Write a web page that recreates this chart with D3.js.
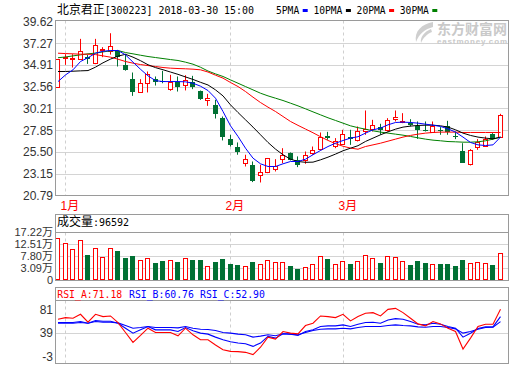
<!DOCTYPE html>
<html><head><meta charset="utf-8">
<script src="https://cdn.jsdelivr.net/npm/d3@7"></script>
<style>body{margin:0;background:#fff;} svg{display:block;}</style>
</head><body><svg id="c" width="520" height="365"></svg>
<script>
const dates = ["12-29",
 "01-02","01-03","01-04","01-05","01-08","01-09","01-10","01-11","01-12","01-15","01-16","01-17","01-18","01-19","01-22","01-23","01-24","01-25","01-26","01-29","01-30","01-31",
 "02-01","02-02","02-05","02-06","02-07","02-08","02-09","02-12","02-13","02-14","02-22","02-23","02-26","02-27","02-28",
 "03-01","03-02","03-05","03-06","03-07","03-08","03-09","03-12","03-13","03-14","03-15","03-16","03-19","03-20","03-21","03-22","03-23","03-26","03-27","03-28","03-29","03-30"];
const open  = [32.58,35.68,35.58,35.54,35.83,35.18,36.55,36.48,36.48,34.92,33.41,32.04,32.94,33.41,33.23,32.30,33.12,32.76,33.02,32.12,31.14,30.60,29.16,26.92,26.06,24.29,24.11,23.00,23.28,23.68,24.72,25.38,24.65,24.58,25.38,25.81,27.25,26.16,26.34,27.11,26.75,27.72,27.97,28.15,27.83,29.05,28.76,28.62,28.33,27.90,27.65,27.90,28.33,27.25,25.63,24.18,26.02,26.16,27.47,27.11];
const high  = [35.54,36.08,36.08,37.74,36.00,37.74,36.84,38.35,36.55,36.11,34.10,33.38,34.21,33.67,34.28,33.85,33.67,33.81,33.74,32.15,31.79,31.14,29.34,27.36,26.53,25.20,24.47,24.11,24.85,24.72,25.91,25.45,25.02,25.55,26.09,27.61,27.68,27.00,27.90,27.90,28.26,29.99,28.98,28.55,29.16,29.99,29.70,29.05,28.80,28.80,28.80,28.19,28.87,27.72,26.45,25.81,26.89,27.18,27.54,29.63];
const low   = [32.58,34.93,34.64,35.50,35.03,35.00,35.76,36.04,34.75,34.30,31.57,31.94,31.94,32.69,32.94,32.12,32.04,32.16,32.30,31.14,30.49,29.12,26.75,26.09,25.20,23.93,22.24,22.20,23.21,23.39,24.29,24.58,23.86,24.22,25.20,25.66,26.82,25.91,26.27,26.27,26.64,27.36,27.72,27.36,27.72,28.80,28.62,28.26,26.92,27.72,27.61,27.36,27.36,26.89,24.33,24.04,25.73,26.09,26.82,27.10];
const close = [35.54,35.83,35.63,36.48,35.54,37.05,36.66,36.98,35.76,34.38,32.04,32.94,33.92,33.02,33.02,33.02,32.48,33.30,32.48,31.25,31.29,29.63,27.11,26.27,25.45,24.72,22.31,23.32,24.83,23.93,25.20,24.65,24.04,25.12,25.73,27.11,26.96,26.74,27.43,26.89,27.79,27.97,28.37,27.90,28.98,29.27,28.87,28.37,27.83,27.79,28.33,27.75,27.65,27.11,24.36,25.73,26.63,26.92,26.92,29.52];
const volume = [15.17,13.19,10.81,14.11,8.43,11.20,7.63,11.20,9.75,6.97,7.77,6.44,7.24,4.99,5.78,6.18,5.39,7.24,6.18,6.18,4.07,5.39,6.58,4.59,4.20,4.07,5.39,4.86,6.18,5.65,5.39,3.80,2.61,3.67,4.59,7.77,6.58,4.86,6.05,4.59,6.05,8.43,6.97,4.99,7.77,7.37,6.05,4.20,5.78,4.99,4.86,4.59,4.59,3.80,6.18,5.25,5.65,5.25,4.20,9.22];
const ma5  = [33.12,33.84,34.39,35.29,35.70,36.19,36.40,36.48,36.48,36.01,35.22,34.45,33.74,33.22,33.12,33.12,33.12,33.09,32.94,32.62,32.15,31.32,29.88,28.33,27.18,25.91,24.83,24.22,23.93,23.93,24.22,24.47,24.47,24.72,25.20,25.66,26.09,26.45,26.74,27.00,27.15,27.54,27.90,28.08,28.44,28.69,28.73,28.69,28.62,28.51,28.40,28.26,28.01,27.65,27.11,26.53,26.27,26.20,26.27,27.11];
const ma10 = [34.21,34.21,34.24,34.28,34.31,34.68,35.15,35.55,35.87,36.07,35.76,35.38,34.94,34.63,34.40,34.15,33.90,33.62,33.35,33.04,32.75,32.22,31.57,30.60,29.77,28.98,28.19,27.36,26.53,25.81,25.20,24.72,24.47,24.38,24.40,24.65,24.94,25.27,25.63,25.91,26.18,26.64,27.00,27.36,27.68,27.97,28.19,28.30,28.37,28.40,28.40,28.33,28.19,27.90,27.54,27.29,27.11,27.00,26.92,27.11];
const ma20 = [36.19,36.15,36.12,36.08,36.08,36.04,35.90,35.76,35.54,35.29,35.11,34.96,34.85,34.75,34.64,34.57,34.53,34.50,34.46,34.39,34.15,33.81,33.49,33.02,32.58,32.04,31.43,30.85,30.35,29.88,29.34,28.80,28.38,27.98,27.58,27.15,26.75,26.40,26.12,25.92,25.80,26.09,26.27,26.45,26.67,26.89,27.11,27.29,27.43,27.54,27.61,27.65,27.65,27.65,27.61,27.61,27.61,27.61,27.61,27.61];
const ma30 = [35.70,35.78,35.90,36.01,36.12,36.20,36.33,36.44,36.48,36.26,36.12,35.97,35.83,35.72,35.61,35.50,35.40,35.22,35.00,34.67,34.26,33.95,33.67,33.30,32.94,32.58,32.22,31.86,31.57,31.32,31.07,30.78,30.49,30.17,29.84,29.52,29.20,28.91,28.62,28.33,28.13,27.97,27.79,27.65,27.54,27.43,27.32,27.18,27.03,26.89,26.78,26.71,26.63,26.60,26.56,26.56,26.60,26.71,26.89,27.11];
const rsiA = [64.2,67.2,66.0,73.2,58.8,73.2,69.0,70.2,58.2,40.2,22.2,34.8,48.0,40.2,40.2,40.2,34.2,48.0,36.0,27.0,27.0,17.4,9.0,6.0,5.4,4.2,0.0,13.5,31.8,28.2,42.0,39.0,37.8,52.8,57.0,70.2,69.0,67.2,73.2,61.2,69.0,75.0,76.2,70.2,82.2,84.0,76.2,66.0,55.8,52.2,60.0,55.8,48.0,42.0,10.2,30.0,51.0,55.2,55.2,82.2];
const rsiB = [58.2,58.2,58.2,60.0,57.0,61.8,60.6,60.6,57.0,48.0,39.0,45.0,51.0,45.0,45.0,45.0,42.0,49.2,43.2,39.0,37.2,31.8,27.0,23.4,21.0,19.8,15.0,21.0,33.0,30.0,37.8,37.2,34.8,42.0,45.0,51.0,52.2,52.2,54.0,51.0,55.2,58.2,58.8,57.0,63.0,65.4,64.2,60.0,55.2,54.0,57.0,55.2,51.0,48.0,31.8,39.0,47.4,50.4,50.4,69.0];
const rsiC = [57.0,57.0,57.0,58.2,57.0,60.0,58.8,58.8,57.6,52.8,48.0,49.2,51.0,49.2,49.2,49.2,48.6,51.0,48.0,46.2,45.6,43.8,40.2,39.0,37.2,36.0,31.8,33.6,36.0,34.2,37.8,37.2,36.0,40.2,43.8,46.2,46.8,46.8,48.0,46.8,49.2,51.0,51.0,51.0,52.8,54.0,52.8,52.2,50.4,49.8,51.0,51.0,49.2,46.8,39.0,42.0,46.2,49.2,49.8,60.0];
const priceTicks = [20.79,23.15,25.50,27.85,30.21,32.56,34.91,37.27,39.62];
const volTicks = [3.09,7.80,12.51,17.22];
const volTickLabels = ["3.09万","7.80万","12.51万","17.22万"];
const volFloor = -1.62, volFloorLabel = "0";
const rsiTicks = [-3,39,81];
const titleParts = [["北京君正",true],["[300223] 2018-03-30 15:00",false]];
const legendItems = [{name:"5PMA",color:"#0000ff"},{name:"10PMA",color:"#000000"},{name:"20PMA",color:"#ff0000"},{name:"30PMA",color:"#008000"}];
const volHeaderParts = [["成交量",true],[":96592",false]];
const rsiHeader = [{t:"RSI_A:71.18",c:"#ff0000"},{t:"RSI_B:60.76",c:"#0000ff"},{t:"RSI_C:52.90",c:"#0000ff"}];

const UP="#ff0000", DOWN="#007033", FRAME="#9a9a9a", GRID="#d4d4d4";
const L=55.5, R=508.5;
const P={top:20.5,bot:195.5}, V={top:214.5,hdr:232.5,bot:280.5}, Q={top:287.5,hdr:300.5,bot:363.5};
const mono='"DejaVu Sans Mono",monospace';
const cjk='"Noto Sans CJK SC",sans-serif';
const sans='"Liberation Sans","Noto Sans CJK SC",sans-serif';

const svg=d3.select("#c");
const n=dates.length;
const x=d3.scaleBand().domain(d3.range(n)).range([54.25,504.25]).paddingInner(0.33).paddingOuter(0.165);
const bw=x.bandwidth();
const cx=i=>x(i)+bw/2;
const yP=d3.scaleLinear().domain([20.79,39.62]).range([195.5,21.5]);
const yV=d3.scaleLinear().domain([volFloor,17.22]).range([280,232.5]);
const yR=d3.scaleLinear().domain([-3,81]).range([356.3,310]);

function mixed(sel,parts){
  parts.forEach(([t,isCjk])=>sel.append("tspan").attr("font-family",isCjk?cjk:mono).attr("font-size",isCjk?12:10).text(t));
  return sel;
}

// grids
const g=svg.append("g");
priceTicks.slice(1,-1).forEach(t=>g.append("line").attr("x1",L).attr("x2",R).attr("y1",Math.round(yP(t))+0.5).attr("y2",Math.round(yP(t))+0.5).attr("stroke",GRID));
volTicks.slice(0,-1).forEach(t=>g.append("line").attr("x1",L).attr("x2",R).attr("y1",Math.round(yV(t))+0.5).attr("y2",Math.round(yV(t))+0.5).attr("stroke",GRID));
g.append("line").attr("x1",L).attr("x2",R).attr("y1",Math.round(yR(39))+0.5).attr("y2",Math.round(yR(39))+0.5).attr("stroke",GRID);

// month separators
const monthStarts=d3.range(1,n).filter(i=>dates[i].slice(0,2)!==dates[i-1].slice(0,2));
monthStarts.forEach(i=>{
  const xx=Math.round(cx(i))+0.5;
  [[P.top,P.bot],[V.hdr,V.bot],[Q.hdr,Q.bot]].forEach(([a,b])=>g.append("line").attr("x1",xx).attr("x2",xx).attr("y1",a).attr("y2",b).attr("stroke","#cfcfcf").attr("stroke-dasharray","3,3"));
  svg.append("text").attr("x",xx-5).attr("y",210).attr("fill","#ff0000").attr("font-family",sans).attr("font-size",12).text(+dates[i].slice(0,2)+"月");
});

// watermark
const wm=svg.append("g").attr("fill","#c9c9c9");
wm.append("path").attr("d","M433,22 C422,24 414,31 416,42 C419,34 425,29 433,27 Z M431,29 C424,32 420,37 421,43 C423,38 427,34 432,32 Z").attr("fill","#cfcfcf");
wm.append("text").attr("x",507).attr("y",34).attr("text-anchor","end").attr("font-family",cjk).attr("font-weight","bold").attr("font-size",14).attr("textLength",70).text("东方财富网");
wm.append("text").attr("x",507).attr("y",43.5).attr("text-anchor","end").attr("font-family",sans).attr("font-weight","bold").attr("font-size",8).attr("textLength",70).text("eastmoney.com");

// candles
const cg=svg.append("g");
d3.range(n).forEach(i=>{
  const up=close[i]>=open[i], col=up?UP:DOWN;
  const x0=Math.round(x(i)), xc=x0+2.5;
  const yo=Math.round(yP(open[i])), yc=Math.round(yP(close[i]));
  const yh=yP(high[i]), yl=yP(low[i]);
  const top=Math.min(yo,yc), bot=Math.max(yo,yc);
  cg.append("line").attr("x1",xc).attr("x2",xc).attr("y1",yh).attr("y2",top).attr("stroke",col);
  cg.append("line").attr("x1",xc).attr("x2",xc).attr("y1",bot).attr("y2",yl).attr("stroke",col);
  if(up) cg.append("rect").attr("x",x0+0.5).attr("y",top+0.5).attr("width",bw-1).attr("height",Math.max(bot-top,1)).attr("fill","#fff").attr("stroke",col);
  else cg.append("rect").attr("x",x0).attr("y",top).attr("width",bw).attr("height",Math.max(bot-top,1)).attr("fill",col);
});
// MAs
const lineP=arr=>d3.line().x((d,i)=>cx(i)).y(d=>yP(d))(arr);
[[ma30,"#008000"],[ma20,"#ff0000"],[ma10,"#000000"],[ma5,"#0000ff"]].forEach(([a,c])=>svg.append("path").attr("d",lineP(a)).attr("fill","none").attr("stroke",c).attr("stroke-width",1));

// volume
const vg=svg.append("g");
d3.range(n).forEach(i=>{
  const up=close[i]>=open[i], col=up?UP:DOWN;
  const x0=Math.round(x(i)), yt=Math.round(yV(volume[i])), yb=Math.round(yV(volFloor));
  if(up) vg.append("rect").attr("x",x0+0.5).attr("y",yt+0.5).attr("width",bw-1).attr("height",yb-yt-1).attr("fill","#fff").attr("stroke",col);
  else vg.append("rect").attr("x",x0).attr("y",yt).attr("width",bw).attr("height",yb-yt).attr("fill",col);
});

// RSI
const lineR=arr=>d3.line().x((d,i)=>cx(i)).y(d=>yR(d))(arr);
[[rsiC,"#0000ff"],[rsiB,"#0000ff"],[rsiA,"#ff0000"]].forEach(([a,c])=>svg.append("path").attr("d",lineR(a)).attr("fill","none").attr("stroke",c).attr("stroke-width",1.1));

// frames
[[P.top,P.bot],[V.top,V.bot],[Q.top,Q.bot]].forEach(([a,b])=>svg.append("rect").attr("x",L).attr("y",a).attr("width",R-L).attr("height",b-a).attr("fill","none").attr("stroke",FRAME));
svg.append("line").attr("x1",L).attr("x2",R).attr("y1",V.hdr).attr("y2",V.hdr).attr("stroke",FRAME);
svg.append("line").attr("x1",L).attr("x2",R).attr("y1",Q.hdr).attr("y2",Q.hdr).attr("stroke",FRAME);

// axis labels
const ax=svg.append("g").attr("font-family",sans).attr("font-size",12).attr("fill","#333").attr("text-anchor","end");
priceTicks.forEach(t=>ax.append("text").attr("x",53).attr("y",yP(t)).attr("dy","0.36em").text(t.toFixed(2)));
volTicks.forEach((t,k)=>ax.append("text").attr("x",53).attr("y",yV(t)).attr("dy","0.36em").attr("font-size",11).text(volTickLabels[k]));
ax.append("text").attr("x",53).attr("y",yV(volFloor)).attr("dy","0.36em").attr("font-size",11).text(volFloorLabel);
rsiTicks.forEach(t=>ax.append("text").attr("x",53).attr("y",yR(t)).attr("dy","0.36em").text(t));

// header texts
mixed(svg.append("text").attr("x",57).attr("y",14).attr("textLength",197).attr("lengthAdjust","spacingAndGlyphs"),titleParts);
let lx=276;
legendItems.forEach(d=>{
  const w=d.name.length*5.8;
  svg.append("text").attr("x",lx).attr("y",14).attr("font-family",mono).attr("font-size",10).attr("textLength",w).attr("lengthAdjust","spacingAndGlyphs").text(d.name);
  svg.append("rect").attr("x",lx+w+3.5).attr("y",9).attr("width",5).attr("height",3).attr("fill",d.color);
  lx+=w+14.2;
});
mixed(svg.append("text").attr("x",57).attr("y",226),volHeaderParts);
const rx=[57.3,129,200];
rsiHeader.forEach((d,k)=>svg.append("text").attr("x",rx[k]).attr("y",298).attr("font-family",mono).attr("font-size",10).attr("fill",d.c).attr("textLength",d.t.length*5.9).attr("lengthAdjust","spacingAndGlyphs").text(d.t));
</script></body></html>
